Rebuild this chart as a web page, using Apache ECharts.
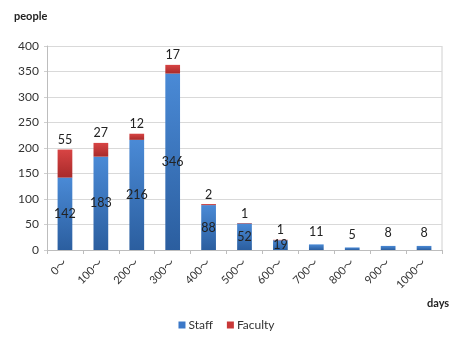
<!DOCTYPE html>
<html>
<head>
<meta charset="utf-8">
<script src="https://cdn.jsdelivr.net/npm/echarts@6/dist/echarts.min.js"></script>
<style>
  html, body { margin: 0; padding: 0; background: #fff; }
  #chart { width: 453px; height: 338px; }
</style>
</head>
<body>
<div id="chart"></div>
<script>
// Length of employment bands (days) and head counts per group
var categories = ['0～', '100～', '200～', '300～', '400～', '500～', '600～', '700～', '800～', '900～', '1000～'];
var staff   = [142, 183, 216, 346, 88, 52, 19, 11, 5, 8, 8];
var faculty = [55, 27, 12, 17, 2, 1, 1, 0, 0, 0, 0];
var yTicks  = [0, 50, 100, 150, 200, 250, 300, 350, 400];

var FONT = 'Lato, "Liberation Sans", sans-serif';
var TICK_FONT = 'Lato, "Noto Sans CJK JP", sans-serif';

function grad(top, bottom) {
  return new echarts.graphic.LinearGradient(0, 0, 0, 1, [
    { offset: 0, color: top },
    { offset: 1, color: bottom }
  ]);
}

// Staff labels sit inside tall bars; very short bars get them on top
var staffData = staff.map(function (v, i) {
  var onTop = faculty[i] === 0;
  return {
    value: v,
    label: {
      position: onTop ? 'top' : 'inside',
      offset: onTop ? [0, -1] : [0, 0]
    }
  };
});

var facultyData = faculty.map(function (v) {
  return v > 0 ? v : { value: 0, label: { show: false } };
});

var chart = echarts.init(document.getElementById('chart'), null, { renderer: 'canvas' });
chart.setOption({
  animation: false,
  textStyle: { fontFamily: FONT },
  grid: { left: 47, right: 11, top: 46, bottom: 88 },
  title: [
    { text: 'people', left: 9, top: 6, textStyle: { fontSize: 11, fontWeight: 'bold', color: '#222', fontFamily: FONT } },
    { text: 'days', left: 422, top: 293, textStyle: { fontSize: 11, fontWeight: 'bold', color: '#222', fontFamily: FONT } }
  ],
  legend: {
    bottom: 2,
    left: 'center',
    itemWidth: 7,
    itemHeight: 7,
    itemGap: 14,
    icon: 'rect',
    textStyle: { fontSize: 12, color: '#333', fontFamily: FONT, padding: [0, 0, 0, -2] },
    data: [
      { name: 'Staff', itemStyle: { color: '#3b78c8' } },
      { name: 'Faculty', itemStyle: { color: '#c83838' } }
    ]
  },
  xAxis: {
    type: 'category',
    data: categories,
    boundaryGap: true,
    axisLine: { lineStyle: { color: '#bdbdbd', width: 1 } },
    axisTick: { show: true, length: 4, lineStyle: { color: '#bdbdbd' } },
    axisLabel: { rotate: 45, fontSize: 11, color: '#333', margin: 11, fontFamily: TICK_FONT, interval: 0 }
  },
  yAxis: {
    type: 'value',
    min: yTicks[0],
    max: yTicks[yTicks.length - 1],
    interval: 50,
    axisLine: { show: true, lineStyle: { color: '#bdbdbd' } },
    axisTick: { show: true, length: 3, lineStyle: { color: '#cfcfcf' } },
    splitLine: { show: true, lineStyle: { color: '#d9d9d9', width: 1 } },
    axisLabel: { fontSize: 12, color: '#333', margin: 8, fontFamily: FONT }
  },
  series: [
    {
      name: 'Staff',
      type: 'bar',
      stack: 'total',
      barWidth: '41%',
      data: staffData,
      itemStyle: { color: grad('#4a8ad6', '#2b5e9f') },
      label: { show: true, fontSize: 12.5, color: '#222', fontFamily: FONT }
    },
    {
      name: 'Faculty',
      type: 'bar',
      stack: 'total',
      barWidth: '41%',
      data: facultyData,
      itemStyle: { color: grad('#d84444', '#a82a2a') },
      label: { show: true, position: 'top', fontSize: 12.5, color: '#222', fontFamily: FONT, distance: 3 }
    }
  ],
  graphic: [
    // right border of the plotting box
    { type: 'line', shape: { x1: 442, y1: 46, x2: 442, y2: 250 }, style: { stroke: '#d0d0d0', lineWidth: 1 } }
  ]
});
</script>
</body>
</html>
